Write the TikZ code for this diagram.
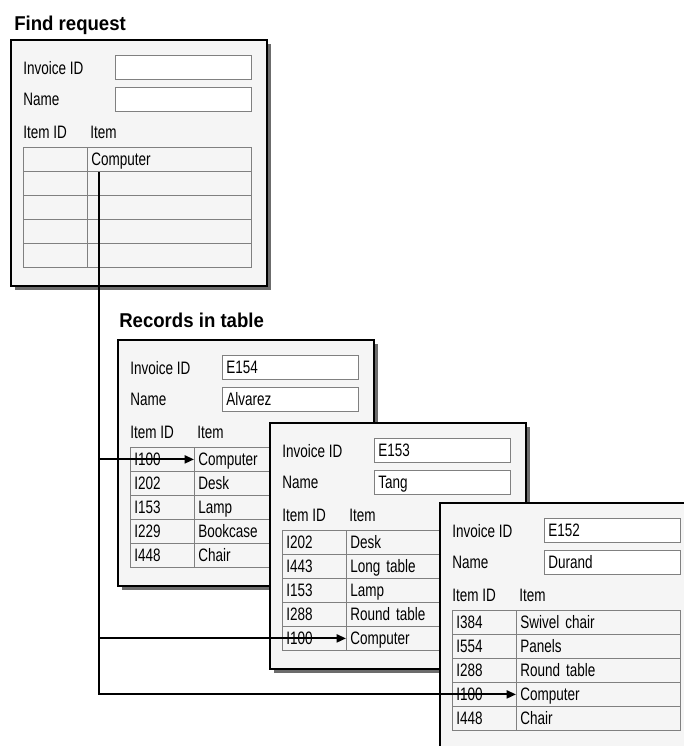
\documentclass[tikz,border=0pt]{standalone}
\usepackage{fontspec}
\setmainfont{Liberation Sans}[FakeStretch=0.75]
\newfontfamily\headfont{Liberation Sans}[FakeStretch=0.93]
\usetikzlibrary{arrows.meta}

\tikzset{
  cardframe/.style={fill=gray!8, draw=black, line width=2pt},
  cardshadow/.style={fill=gray!85!black},
  lbl/.style={anchor=base west, inner sep=0pt},
  cellbox/.style={draw=gray, line width=0.6pt, anchor=north west, inner xsep=3pt,
    inner ysep=0pt, minimum height=18pt, text height=11pt, text depth=1.2pt, align=left},
  field/.style={cellbox, fill=white, text width=96pt},
  idcell/.style={cellbox, text width=42pt},
  itemcell/.style={cellbox, text width=117pt},
  heading/.style={anchor=base west, inner sep=0pt, font=\headfont\bfseries\fontsize{15}{18}\selectfont},
  link/.style={line width=1.5pt, -{Triangle[length=7pt,width=6pt]}}
}

% one form: #1 name, #2 left, #3 top, #4 invoice, #5 customer, #6 item rows
\newcommand{\recordform}[6]{%
  \begin{scope}[shift={(#2,#3)}]
    \fill[cardshadow] (4,4) rectangle (260,250);
    \filldraw[cardframe] (0,0) rectangle (256,246);
    \node[lbl] at (12,34.5) {Invoice ID};
    \node[field] (#1-inv) at (104,15) {#4};
    \node[lbl] at (12,65) {Name};
    \node[field] (#1-name) at (104,47) {#5};
    \node[lbl] at (12,98.5) {Item ID};
    \node[lbl] at (79,98.5) {Item};
    \foreach \id/\item [count=\r] in {#6} {
      \node[idcell] (#1-id\r) at (12,{107+24*(\r-1)}) {\id};
      \node[itemcell] (#1-it\r) at (76,{107+24*(\r-1)}) {\item};
    }
  \end{scope}}

\begin{document}
\begin{tikzpicture}[x=0.75pt, y=-0.75pt, font=\fontsize{13.5}{16}\selectfont]

  \clip (0,0) rectangle (684,746);

  % Find request
  \node[heading] (findtitle) at (14,31) {Find request};
  \recordform{find}{11}{40}{}{}{/Computer, /, /, /, /}

  % Records in table
  \node[heading] (rectitle) at (119,327) {Records in table};
  \recordform{e154}{118}{340}{E154}{Alvarez}%
    {I100/Computer, I202/Desk, I153/Lamp, I229/Bookcase, I448/Chair}
  \recordform{e153}{270}{423}{E153}{Tang}%
    {I202/Desk, I443/Long table, I153/Lamp, I288/Round table, I100/Computer}
  \recordform{e152}{440}{503}{E152}{Durand}%
    {I384/Swivel chair, I554/Panels, I288/Round table, I100/Computer, I448/Chair}

  % Matches
  \coordinate (trunk) at (99,172);
  \draw[link] (trunk) |- (e154-it1.west);
  \draw[link] (trunk) |- (e153-it5.west);
  \draw[link] (trunk) |- (e152-it4.west);

\end{tikzpicture}
\end{document}
